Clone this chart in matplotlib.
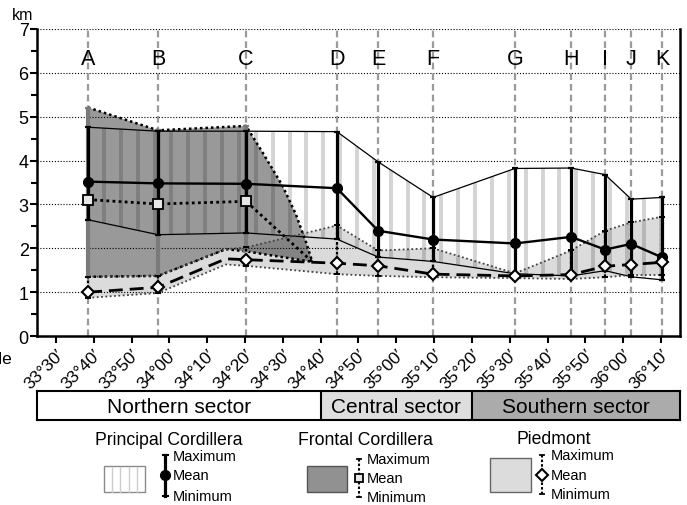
import numpy as np
import matplotlib
matplotlib.use("Agg")
import matplotlib.pyplot as plt
from matplotlib.patches import Rectangle

plt.rcParams['font.family'] = ['Liberation Sans', 'DejaVu Sans']

# ---------------------------------------------------------------- data
station_names = ['A', 'B', 'C', 'D', 'E', 'F', 'G', 'H', 'I', 'J', 'K']
station_lat = [33.642, 33.950, 34.338, 34.738, 34.920, 35.162,
               35.523, 35.770, 35.920, 36.035, 36.172]

# Principal Cordillera elevations (km)
principal_max = [4.76, 4.67, 4.67, 4.66, 3.97, 3.16, 3.82, 3.83, 3.68, 3.12, 3.16]
principal_mean = [3.52, 3.48, 3.47, 3.37, 2.40, 2.20, 2.11, 2.26, 1.97, 2.10, 1.79]
principal_min = [2.65, 2.31, 2.35, 2.21, 1.80, 1.70, 1.42, 1.37, 1.49, 1.35, 1.28]

# Frontal Cordillera (stations A-C, pinching out southward)
frontal_max = [5.21, 4.69, 4.79]
frontal_mean = [3.11, 3.01, 3.07]
frontal_min = [1.35, 1.37, 1.93]
frontal_crest_lat = [34.410, 34.498, 34.557, 34.602]
frontal_crest_km = [4.19, 3.43, 2.78, 2.14]
frontal_end_lat = 34.630
frontal_end_km = 1.69

# Piedmont
piedmont_max = [1.35, 1.37, 2.02, 2.52, 1.95, 2.00, 1.43, 1.95, 2.40, 2.59, 2.72]
piedmont_mean = [1.00, 1.11, 1.74, 1.66, 1.60, 1.41, 1.37, 1.40, 1.59, 1.63, 1.68]
piedmont_min = [0.87, 0.98, 1.60, 1.41, 1.37, 1.34, 1.32, 1.30, 1.34, 1.39, 1.39]
piedmont_knot_lat = 34.249
piedmont_knot_max = 1.98
piedmont_knot_mean = 1.76
piedmont_knot_min = 1.63

# Latitude ticks (every 10 minutes)
lat_tick_deg = [33, 33, 33, 34, 34, 34, 34, 34, 34, 35, 35, 35,
                35, 35, 35, 36, 36]
lat_tick_min = [30, 40, 50, 0, 10, 20, 30, 40, 50, 0, 10, 20,
                30, 40, 50, 0, 10]

sector_names = ['Northern sector', 'Central sector', 'Southern sector']
sector_bounds = [33.4167, 34.6667, 35.3333, 36.25]
sector_colors = ['white', '#dedede', '#ababab']

xlim = (33.4167, 36.25)

# ---------------------------------------------------------------- figure
fig = plt.figure(figsize=(6.87, 5.06), dpi=100)
W, H = 687, 506

ax = fig.add_axes([37 / W, 1 - 337 / H, (680 - 37) / W, (337 - 30) / H])
ax.set_xlim(*xlim)
ax.set_ylim(0, 7)

# horizontal dotted grid
for yv in range(1, 8):
    ax.axhline(yv, color='k', lw=0.8, ls=(0, (1, 1.6)), zorder=0.5)

# station guide lines
for lat in station_lat:
    ax.axvline(lat, color='#9a9a9a', lw=1.6, ls=(0, (3, 1.8)), zorder=0.6)

# principal polygon (opaque white base)
prin_poly = ax.fill_between(station_lat, principal_min, principal_max,
                            facecolor='white', edgecolor='none', zorder=1)

# frontal polygon
frontal_lat = list(station_lat[:3])
fr_upper_lat = frontal_lat + frontal_crest_lat + [frontal_end_lat]
fr_upper_km = frontal_max + frontal_crest_km + [frontal_end_km]
fr_lower_lat = frontal_lat[:2] + [piedmont_knot_lat, frontal_lat[2], frontal_end_lat]
fr_lower_km = frontal_min[:2] + [piedmont_knot_max, frontal_min[2], frontal_end_km]
ax.fill(fr_upper_lat + fr_lower_lat[::-1], fr_upper_km + fr_lower_km[::-1],
        facecolor='black', alpha=0.40, edgecolor='none', zorder=2)

# piedmont polygon
order = np.argsort(station_lat + [piedmont_knot_lat])
pd_lat = np.array(station_lat + [piedmont_knot_lat])[order]
pd_max = np.array(piedmont_max + [piedmont_knot_max])[order]
pd_mean = np.array(piedmont_mean + [piedmont_knot_mean])[order]
pd_min = np.array(piedmont_min + [piedmont_knot_min])[order]
ax.fill_between(pd_lat, pd_min, pd_max, facecolor='black', alpha=0.14,
                edgecolor='none', zorder=2)

# vertical stripe pattern clipped to the principal polygon
stripe_step = 4.46 / 60
stripe_x = np.arange(33.7117 - 5 * stripe_step, 36.3, stripe_step)
clip_path = prin_poly.get_paths()[0]
for sx in stripe_x:
    ln = ax.axvline(sx, color='black', alpha=0.17, lw=2.8, zorder=3)
    ln.set_clip_path(clip_path, prin_poly.get_transform())

# principal outline lines
ax.plot(station_lat, principal_max, color='k', lw=0.9, zorder=5)
ax.plot(station_lat, principal_min, color='k', lw=0.9, zorder=5)

# frontal outlines
ax.plot(fr_upper_lat, fr_upper_km, color='k', lw=1.8, ls=(0, (1, 1.2)), zorder=5)
ax.plot(fr_lower_lat, fr_lower_km, color='k', lw=1.8, ls=(0, (1, 1.2)), zorder=5)

# piedmont outlines
ax.plot(pd_lat, pd_max, color='#444444', lw=1.3, ls=(0, (1, 1.4)), zorder=5)
ax.plot(pd_lat, pd_min, color='#444444', lw=1.3, ls=(0, (1, 1.4)), zorder=5)

# frontal error bars
fm = np.array(frontal_mean)
ax.errorbar(frontal_lat, fm, yerr=[fm - np.array(frontal_min), np.array(frontal_max) - fm],
            fmt='none', ecolor='#7a7a7a', elinewidth=3.0, capsize=2.2, capthick=1.6, zorder=6)

# piedmont error bars
pm = np.array(piedmont_mean)
ax.errorbar(station_lat, pm, yerr=[pm - np.array(piedmont_min), np.array(piedmont_max) - pm],
            fmt='none', ecolor='k', elinewidth=1.6, capsize=2.2, capthick=1.4,
            ls='none', zorder=6)[2][0].set_linestyle((0, (1.2, 1.0)))

# principal error bars
pr = np.array(principal_mean)
ax.errorbar(station_lat, pr, yerr=[pr - np.array(principal_min), np.array(principal_max) - pr],
            fmt='none', ecolor='k', elinewidth=2.3, capsize=2.2, capthick=1.6, zorder=7)

# frontal mean
ax.plot(frontal_lat + [frontal_end_lat], frontal_mean + [frontal_end_km],
        color='k', lw=2.0, ls=(0, (1, 1.2)), zorder=7)
ax.plot(frontal_lat, frontal_mean, ls='none', marker='s', ms=7,
        mfc='#e6e6e6', mec='k', mew=1.3, zorder=9)

# piedmont mean
ax.plot(pd_lat, pd_mean, color='k', lw=2.0, ls=(0, (5, 2.5)), zorder=7)
ax.plot(station_lat, piedmont_mean, ls='none', marker='D', ms=6.5,
        mfc='white', mec='k', mew=1.5, zorder=9)

# principal mean
ax.plot(station_lat, principal_mean, color='k', lw=1.7, marker='o', ms=7,
        mfc='k', mec='k', zorder=8)

# station letters
for name, lat in zip(station_names, station_lat):
    ax.text(lat, 6.32, name, ha='center', va='center', fontsize=15.5, zorder=10)

# axes styling
for side in ['left', 'bottom', 'right']:
    ax.spines[side].set_linewidth(1.8)
ax.spines['top'].set_visible(False)

ax.set_yticks(range(0, 8))
ax.set_yticks(np.arange(0.5, 7, 1.0), minor=True)
ax.tick_params(axis='y', which='major', direction='out', length=5, width=1.5,
               labelsize=13, pad=1)
ax.tick_params(axis='y', which='minor', direction='out', length=4, width=1.5)

xt = [d + m / 60 for d, m in zip(lat_tick_deg, lat_tick_min)]
ax.set_xticks(xt)
ax.set_xticklabels([f"{d}\u00b0{m:02d}\u2032" for d, m in zip(lat_tick_deg, lat_tick_min)],
                   rotation=45, ha='right', rotation_mode='anchor', fontsize=12.5)
ax.tick_params(axis='x', direction='out', length=5, width=1.5, pad=2)

fig.text(23 / W, 1 - 15 / H, 'km', ha='center', va='center', fontsize=11.5)
fig.text(12 / W, 1 - 360 / H, 'Latitude', ha='right', va='center', fontsize=12.5)

# ---------------------------------------------------------------- sector bar
sax = fig.add_axes([37 / W, 1 - 421 / H, (680 - 37) / W, 29 / H])
sax.set_xlim(*xlim)
sax.set_ylim(0, 1)
for i, name in enumerate(sector_names):
    sax.axvspan(sector_bounds[i], sector_bounds[i + 1], color=sector_colors[i], zorder=0)
    if i > 0:
        sax.axvline(sector_bounds[i], color='k', lw=1.5)
    sax.text((sector_bounds[i] + sector_bounds[i + 1]) / 2, 0.47, name,
             ha='center', va='center', fontsize=15)
sax.set_xticks([])
sax.set_yticks([])
for s in sax.spines.values():
    s.set_linewidth(1.5)

# ---------------------------------------------------------------- key
lax = fig.add_axes([0, 0, 1, 1], zorder=-5)
lax.set_xlim(0, W)
lax.set_ylim(H, 0)
lax.axis('off')

key_title_fs = 12.7
key_fs = 10.5

# Principal Cordillera
lax.text(169, 441, 'Principal Cordillera', ha='center', va='center', fontsize=key_title_fs)
lax.add_patch(Rectangle((104, 467), 41, 26, facecolor='white', edgecolor='#8a8a8a', lw=1))
for sx in np.arange(112, 145, 8.3):
    lax.plot([sx, sx], [467.5, 492.5], color='#cccccc', lw=1)
lax.plot([165, 165], [456, 497], color='k', lw=2.3)
lax.plot([162.5, 167.5], [456, 456], color='k', lw=1.5)
lax.plot([162.5, 167.5], [497, 497], color='k', lw=1.5)
lax.plot([165], [476], marker='o', ms=7, color='k')
lax.text(173, 457, 'Maximum', ha='left', va='center', fontsize=key_fs)
lax.text(173, 476, 'Mean', ha='left', va='center', fontsize=key_fs)
lax.text(173, 497, 'Minimum', ha='left', va='center', fontsize=key_fs)

# Frontal Cordillera
lax.text(365, 441, 'Frontal Cordillera', ha='center', va='center', fontsize=key_title_fs)
lax.add_patch(Rectangle((307, 467), 40, 26, facecolor='#919191', edgecolor='#555555', lw=1))
lax.plot([359, 359], [460, 498], color='k', lw=1.5, ls=(0, (1.2, 1.0)))
lax.plot([357, 361], [460, 460], color='k', lw=1.3)
lax.plot([357, 361], [498, 498], color='k', lw=1.3)
lax.plot([359], [479], marker='s', ms=6, mfc='#e6e6e6', mec='k', mew=1.3)
lax.text(367, 460, 'Maximum', ha='left', va='center', fontsize=key_fs)
lax.text(367, 479, 'Mean', ha='left', va='center', fontsize=key_fs)
lax.text(367, 498, 'Minimum', ha='left', va='center', fontsize=key_fs)

# Piedmont
lax.text(554, 440, 'Piedmont', ha='center', va='center', fontsize=key_title_fs)
lax.add_patch(Rectangle((490, 459), 41, 34, facecolor='#dcdcdc', edgecolor='#666666', lw=1))
lax.plot([542, 542], [456, 495], color='k', lw=1.5, ls=(0, (1.2, 1.0)))
lax.plot([540, 544], [456, 456], color='k', lw=1.3)
lax.plot([540, 544], [495, 495], color='k', lw=1.3)
lax.plot([542], [476], marker='D', ms=6, mfc='white', mec='k', mew=1.5)
lax.text(551, 456, 'Maximum', ha='left', va='center', fontsize=key_fs)
lax.text(551, 476, 'Mean', ha='left', va='center', fontsize=key_fs)
lax.text(551, 495, 'Minimum', ha='left', va='center', fontsize=key_fs)

fig.savefig('out.png', dpi=100)
